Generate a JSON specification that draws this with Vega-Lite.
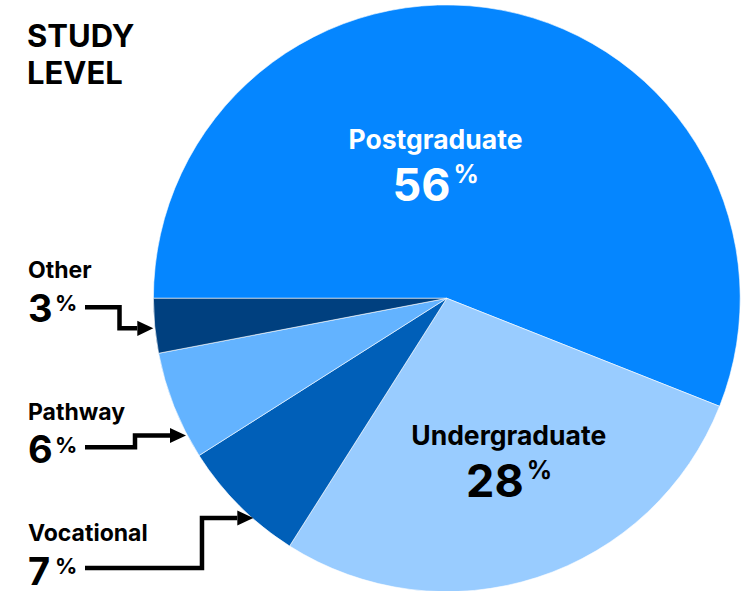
{
  "$schema": "https://vega.github.io/schema/vega-lite/v6.json",
  "width": 753,
  "height": 591,
  "autosize": {"type": "none"},
  "padding": 0,
  "background": "white",
  "config": {"view": {"stroke": null}, "font": "Inter"},
  "title": {
    "text": ["STUDY", "LEVEL"],
    "anchor": "start",
    "frame": "group",
    "orient": "top",
    "offset": -115,
    "dx": 27,
    "baseline": "alphabetic",
    "fontSize": 31,
    "fontWeight": "bold",
    "font": "Inter",
    "color": "black",
    "lineHeight": 37
  },
  "datasets": {
    "slices": [
      {"cat": "Postgraduate", "pct": 56, "rank": 1},
      {"cat": "Undergraduate", "pct": 28, "rank": 2},
      {"cat": "Vocational", "pct": 7, "rank": 3},
      {"cat": "Pathway", "pct": 6, "rank": 4},
      {"cat": "Other", "pct": 3, "rank": 5}
    ],
    "labels": [
      {"cat": "Postgraduate", "pct": 56, "kind": "inner", "x": -3.85, "y": 50.78},
      {"cat": "Undergraduate", "pct": 28, "kind": "inner", "x": 21.10, "y": -50.0},
      {"cat": "Other", "pct": 3, "kind": "outer", "x": -142.74, "y": 6.75},
      {"cat": "Pathway", "pct": 6, "kind": "outer", "x": -142.74, "y": -41.31},
      {"cat": "Vocational", "pct": 7, "kind": "outer", "x": -142.74, "y": -82.72}
    ],
    "connectors": [
      {"cat": "Other", "step": 1, "x": -123.31, "y": -3.07},
      {"cat": "Other", "step": 2, "x": -111.55, "y": -3.07},
      {"cat": "Other", "step": 3, "x": -111.55, "y": -10.22},
      {"cat": "Other", "step": 4, "x": -105.49, "y": -10.22},
      {"cat": "Pathway", "step": 1, "x": -123.31, "y": -50.78},
      {"cat": "Pathway", "step": 2, "x": -106.27, "y": -50.78},
      {"cat": "Pathway", "step": 3, "x": -106.27, "y": -46.76},
      {"cat": "Pathway", "step": 4, "x": -94.34, "y": -46.76},
      {"cat": "Vocational", "step": 1, "x": -123.31, "y": -91.92},
      {"cat": "Vocational", "step": 2, "x": -83.44, "y": -91.92},
      {"cat": "Vocational", "step": 3, "x": -83.44, "y": -74.88},
      {"cat": "Vocational", "step": 4, "x": -71.40, "y": -74.88}
    ]
  },
  "layer": [
    {
      "data": {"name": "slices"},
      "mark": {"type": "arc", "outerRadius": 293.4, "stroke": "white", "strokeWidth": 0.6},
      "encoding": {
        "theta": {"field": "pct", "type": "quantitative", "stack": true, "scale": {"range": [4.71238898, 10.99557429]}},
        "order": {"field": "rank", "type": "quantitative"},
        "color": {
          "field": "cat",
          "type": "nominal",
          "scale": {
            "domain": ["Postgraduate", "Undergraduate", "Vocational", "Pathway", "Other"],
            "range": ["#0586FF", "#99CCFF", "#005FB8", "#63B3FF", "#00407F"]
          },
          "legend": null
        },
        "x": {"datum": 0, "type": "quantitative", "scale": {"domain": [-152.28, 104.36], "nice": false, "zero": false}, "axis": null},
        "y": {"datum": 0, "type": "quantitative", "scale": {"domain": [-99.76, 101.67], "nice": false, "zero": false}, "axis": null}
      }
    },
    {
      "data": {"name": "connectors"},
      "mark": {"type": "line", "color": "black", "strokeWidth": 4.5, "strokeJoin": "miter", "strokeCap": "butt"},
      "encoding": {
        "x": {"field": "x", "type": "quantitative"},
        "y": {"field": "y", "type": "quantitative"},
        "detail": {"field": "cat"},
        "order": {"field": "step", "type": "quantitative"}
      }
    },
    {
      "data": {"name": "connectors"},
      "transform": [{"filter": "datum.step === 4"}],
      "mark": {"type": "point", "shape": "M0,-0.95L2,0L0,0.95Z", "size": 256, "filled": true, "color": "black", "opacity": 1, "strokeWidth": 0},
      "encoding": {
        "x": {"field": "x", "type": "quantitative"},
        "y": {"field": "y", "type": "quantitative"}
      }
    },
    {
      "data": {"name": "labels"},
      "transform": [{"filter": "datum.kind === 'inner'"}],
      "mark": {"type": "text", "align": "center", "baseline": "alphabetic", "fontSize": 26.5, "fontWeight": "bold", "font": "Inter"},
      "encoding": {
        "x": {"field": "x", "type": "quantitative"},
        "y": {"field": "y", "type": "quantitative"},
        "text": {"field": "cat"},
        "color": {"condition": {"test": "datum.cat === 'Postgraduate'", "value": "white"}, "value": "black"}
      }
    },
    {
      "data": {"name": "labels"},
      "transform": [{"filter": "datum.kind === 'inner'"}],
      "mark": {"type": "text", "align": "right", "baseline": "alphabetic", "dx": 15, "dy": 51.7, "fontSize": 45, "fontWeight": "bold", "font": "Inter"},
      "encoding": {
        "x": {"field": "x", "type": "quantitative"},
        "y": {"field": "y", "type": "quantitative"},
        "text": {"field": "pct", "type": "quantitative"},
        "color": {"condition": {"test": "datum.cat === 'Postgraduate'", "value": "white"}, "value": "black"}
      }
    },
    {
      "data": {"name": "labels"},
      "transform": [{"filter": "datum.kind === 'inner'"}],
      "mark": {"type": "text", "align": "left", "baseline": "alphabetic", "dx": 18, "dy": 34, "fontSize": 25, "fontWeight": "bold", "font": "Inter", "text": "%"},
      "encoding": {
        "x": {"field": "x", "type": "quantitative"},
        "y": {"field": "y", "type": "quantitative"},
        "color": {"condition": {"test": "datum.cat === 'Postgraduate'", "value": "white"}, "value": "black"}
      }
    },
    {
      "data": {"name": "labels"},
      "transform": [{"filter": "datum.kind === 'outer'"}],
      "mark": {"type": "text", "align": "left", "baseline": "alphabetic", "fontSize": 23, "fontWeight": "bold", "font": "Inter", "color": "black"},
      "encoding": {
        "x": {"field": "x", "type": "quantitative"},
        "y": {"field": "y", "type": "quantitative"},
        "text": {"field": "cat"}
      }
    },
    {
      "data": {"name": "labels"},
      "transform": [{"filter": "datum.kind === 'outer'"}],
      "mark": {"type": "text", "align": "left", "baseline": "alphabetic", "dy": 43.5, "fontSize": 38, "fontWeight": "bold", "font": "Inter", "color": "black"},
      "encoding": {
        "x": {"field": "x", "type": "quantitative"},
        "y": {"field": "y", "type": "quantitative"},
        "text": {"field": "pct", "type": "quantitative"}
      }
    },
    {
      "data": {"name": "labels"},
      "transform": [{"filter": "datum.kind === 'outer'"}],
      "mark": {"type": "text", "align": "left", "baseline": "alphabetic", "dx": 27, "dy": 33, "fontSize": 22, "fontWeight": "bold", "font": "Inter", "color": "black", "text": "%"},
      "encoding": {
        "x": {"field": "x", "type": "quantitative"},
        "y": {"field": "y", "type": "quantitative"}
      }
    }
  ]
}
